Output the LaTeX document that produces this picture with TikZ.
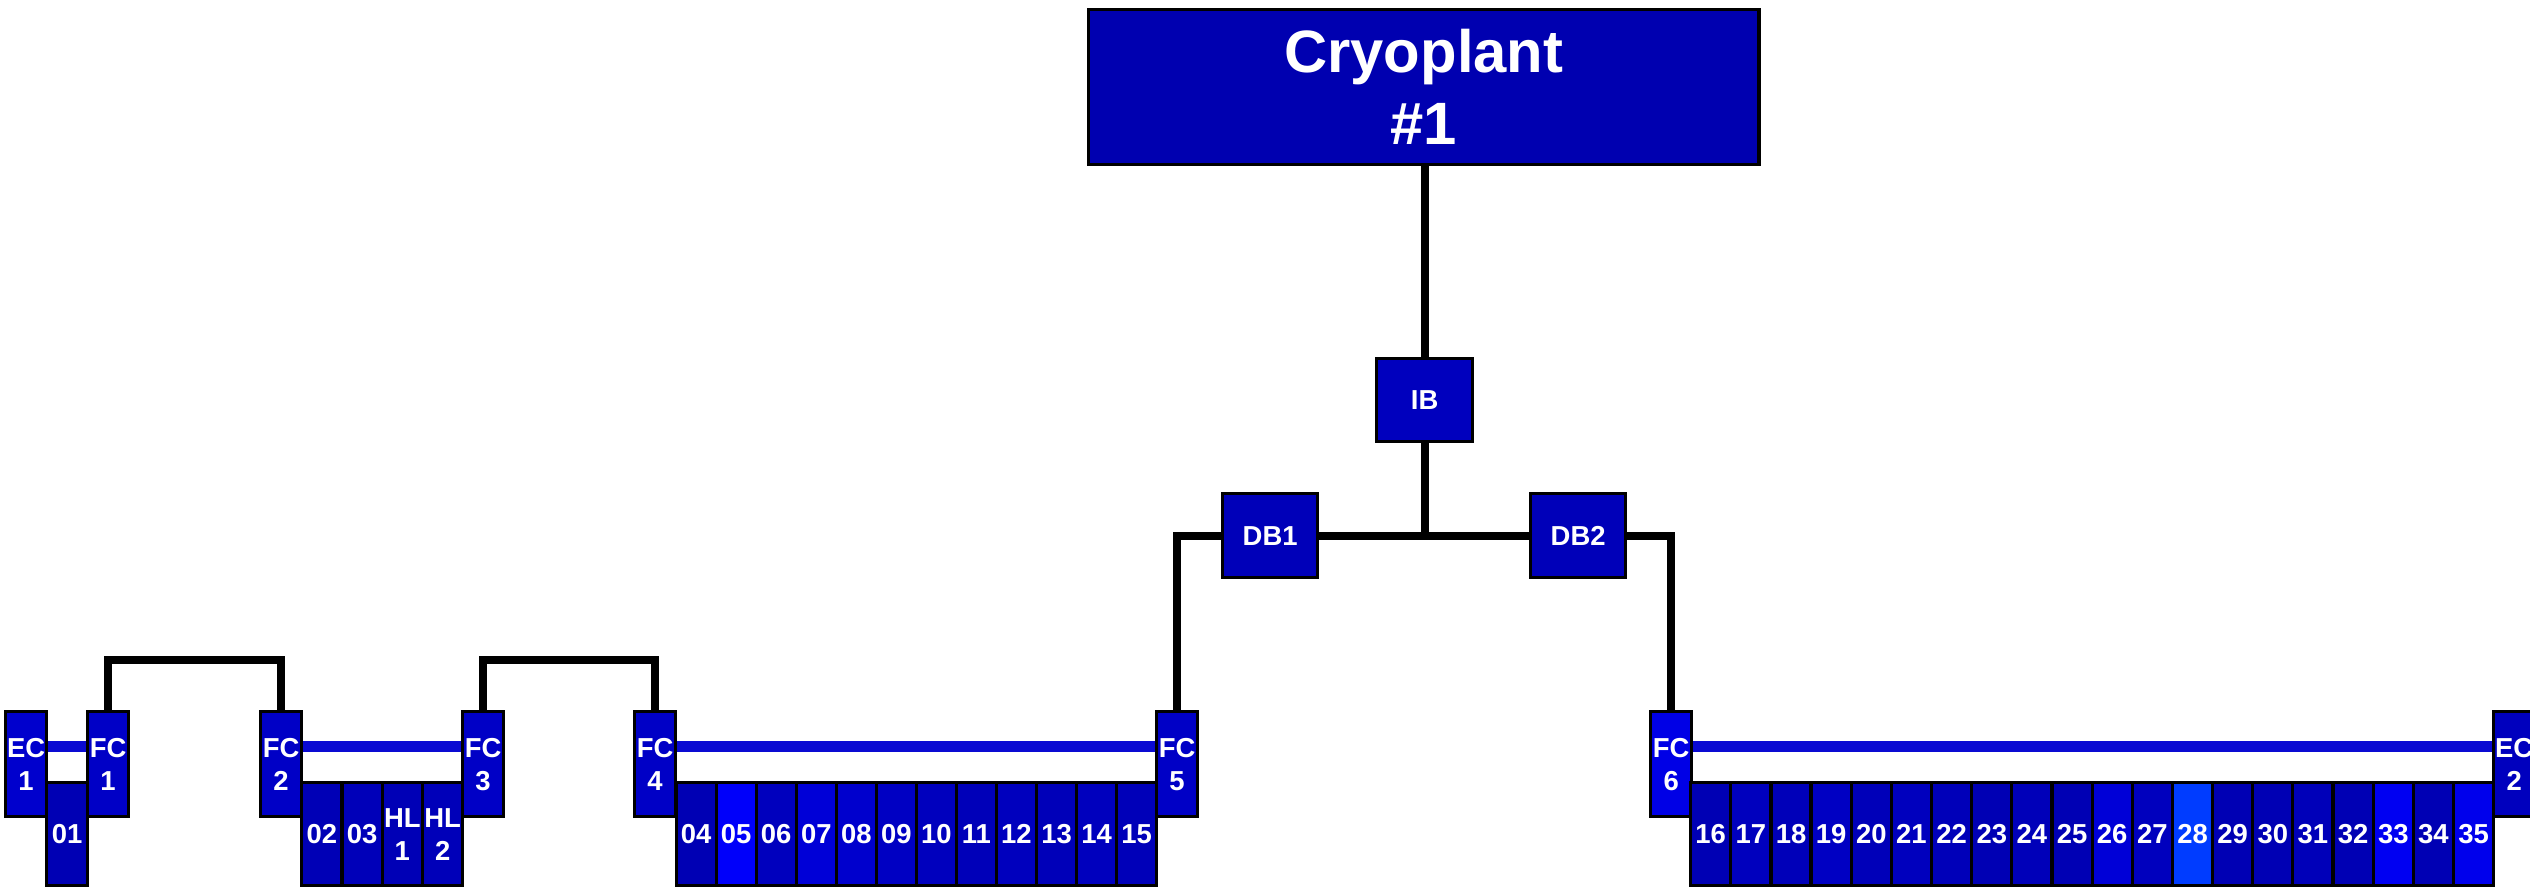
\documentclass[tikz,border=0pt]{standalone}
\usepackage{fontspec}
\setmainfont{Liberation Sans}
\usetikzlibrary{calc}

% fills of the individual units
\definecolor{base}{RGB}{0,0,180}
\definecolor{cryo}{RGB}{0,0,176}
\definecolor{feedblue}{RGB}{10,10,210}
\definecolor{c01}{RGB}{0,0,180}
\definecolor{c02}{RGB}{0,0,182}
\definecolor{c03}{RGB}{0,0,185}
\definecolor{c04}{RGB}{0,0,180}
\definecolor{c05}{RGB}{0,0,250}
\definecolor{c06}{RGB}{0,0,190}
\definecolor{c07}{RGB}{0,0,215}
\definecolor{c08}{RGB}{0,0,205}
\definecolor{c09}{RGB}{0,0,195}
\definecolor{c10}{RGB}{0,0,190}
\definecolor{c11}{RGB}{0,0,185}
\definecolor{c12}{RGB}{0,0,190}
\definecolor{c13}{RGB}{0,0,185}
\definecolor{c14}{RGB}{0,0,190}
\definecolor{c15}{RGB}{0,0,185}
\definecolor{c16}{RGB}{0,0,180}
\definecolor{c17}{RGB}{0,0,190}
\definecolor{c18}{RGB}{0,0,185}
\definecolor{c19}{RGB}{0,0,195}
\definecolor{c20}{RGB}{0,0,185}
\definecolor{c21}{RGB}{0,0,190}
\definecolor{c22}{RGB}{0,0,185}
\definecolor{c23}{RGB}{0,0,180}
\definecolor{c24}{RGB}{0,0,185}
\definecolor{c25}{RGB}{0,0,180}
\definecolor{c26}{RGB}{0,0,215}
\definecolor{c27}{RGB}{0,0,190}
\definecolor{c28}{RGB}{0,60,255}
\definecolor{c29}{RGB}{0,0,180}
\definecolor{c30}{RGB}{0,0,180}
\definecolor{c31}{RGB}{0,0,185}
\definecolor{c32}{RGB}{0,0,180}
\definecolor{c33}{RGB}{0,0,242}
\definecolor{c34}{RGB}{0,0,180}
\definecolor{c35}{RGB}{0,0,236}
\definecolor{fcA}{RGB}{0,0,198}
\definecolor{fcB}{RGB}{0,0,230}

\begin{document}
\begin{tikzpicture}[x=0.01cm, y=-0.01cm,
  box/.style={draw=black, line width=0.032cm, inner sep=0pt, anchor=north west,
    text=white, align=center, font=\bfseries\fontsize{7.8}{9.4}\selectfont},
  bigbox/.style={box, fill=cryo, minimum width=6.70cm, minimum height=1.55cm,
    font=\bfseries\fontsize{17}{20.5}\selectfont},
  midbox/.style={box, fill=base, minimum width=0.95cm, minimum height=0.84cm},
  endbox/.style={box, fill=fcA, minimum width=0.41cm, minimum height=1.05cm},
  cell/.style={box, minimum height=1.03cm},
  pipe/.style={line width=0.08cm, draw=black},
  feed/.style={line width=0.11cm, draw=feedblue}]

\useasboundingbox (0,0) rectangle (2530,887);
\fill[white] (0,0) rectangle (2530,887);

% plant and distribution boxes
\node[bigbox] (cryo) at (1087,8) {Cryoplant\\\#1};
\node[midbox, fill=c10, minimum width=0.96cm, minimum height=0.83cm] (ib) at (1375,357) {IB};
\node[midbox, fill=c03] (db1) at (1221,492) {DB1};
\node[midbox, fill=c03] (db2) at (1529,492) {DB2};

% feed and end boxes
\node[endbox, fill=c08] (ec1) at (4,710) {EC\\1};
\node[endbox] (fc1) at (86,710) {FC\\1};
\node[endbox] (fc2) at (259,710) {FC\\2};
\node[endbox] (fc3) at (461,710) {FC\\3};
\node[endbox] (fc4) at (633,710) {FC\\4};
\node[endbox] (fc5) at (1155,710) {FC\\5};
\node[endbox, fill=fcB] (fc6) at (1649,710) {FC\\6};
\node[endbox, fill=c17] (ec2) at (2492,710) {EC\\2};

% cells
\node[cell, fill=c01, minimum width=0.41cm] (r01) at (45,781) {01};
\node[cell, fill=c02, minimum width=0.403cm] (r02) at (300,781) {02};
\node[cell, fill=c03, minimum width=0.403cm] (r03) at (340.3,781) {03};
\node[cell, fill=c02, minimum width=0.403cm] (hl1) at (380.6,781) {HL\\1};
\node[cell, fill=c03, minimum width=0.403cm] (hl2) at (420.9,781) {HL\\2};
\foreach \n [count=\i from 0] in {04,05,06,07,08,09,10,11,12,13,14,15}
  \node[cell, fill=c\n, minimum width=0.4004cm] (r\n) at (674.5+\i*40.04,781) {\n};
\foreach \n [count=\i from 0] in {16,17,18,19,20,21,22,23,24,25,26,27,28,29,30,31,32,33,34,35}
  \node[cell, fill=c\n, minimum width=0.4015cm] (r\n) at (1689+\i*40.15,781) {\n};

% helium feed lines between boxes
\coordinate (fy) at (0,746);
\draw[feed] (ec1.east |- fy) -- (fc1.west |- fy);
\draw[feed] (fc2.east |- fy) -- (fc3.west |- fy);
\draw[feed] (fc4.east |- fy) -- (fc5.west |- fy);
\draw[feed] (fc6.east |- fy) -- (ec2.west |- fy);

% transfer lines
\coordinate (loop) at (0,660);
\draw[pipe] (fc1.north) -- (fc1.north |- loop) -| (fc2.north);
\draw[pipe] (fc3.north) -- (fc3.north |- loop) -| (fc4.north);
\draw[pipe] (ib.north |- cryo.south) -- (ib.north);
\draw[pipe] (ib.south) -- (ib.south |- db1.east);
\draw[pipe] (fc5.north) |- (db1.west);
\draw[pipe] (db1.east) -- (db2.west);
\draw[pipe] (db2.east) -| (fc6.north);
\end{tikzpicture}
\end{document}
